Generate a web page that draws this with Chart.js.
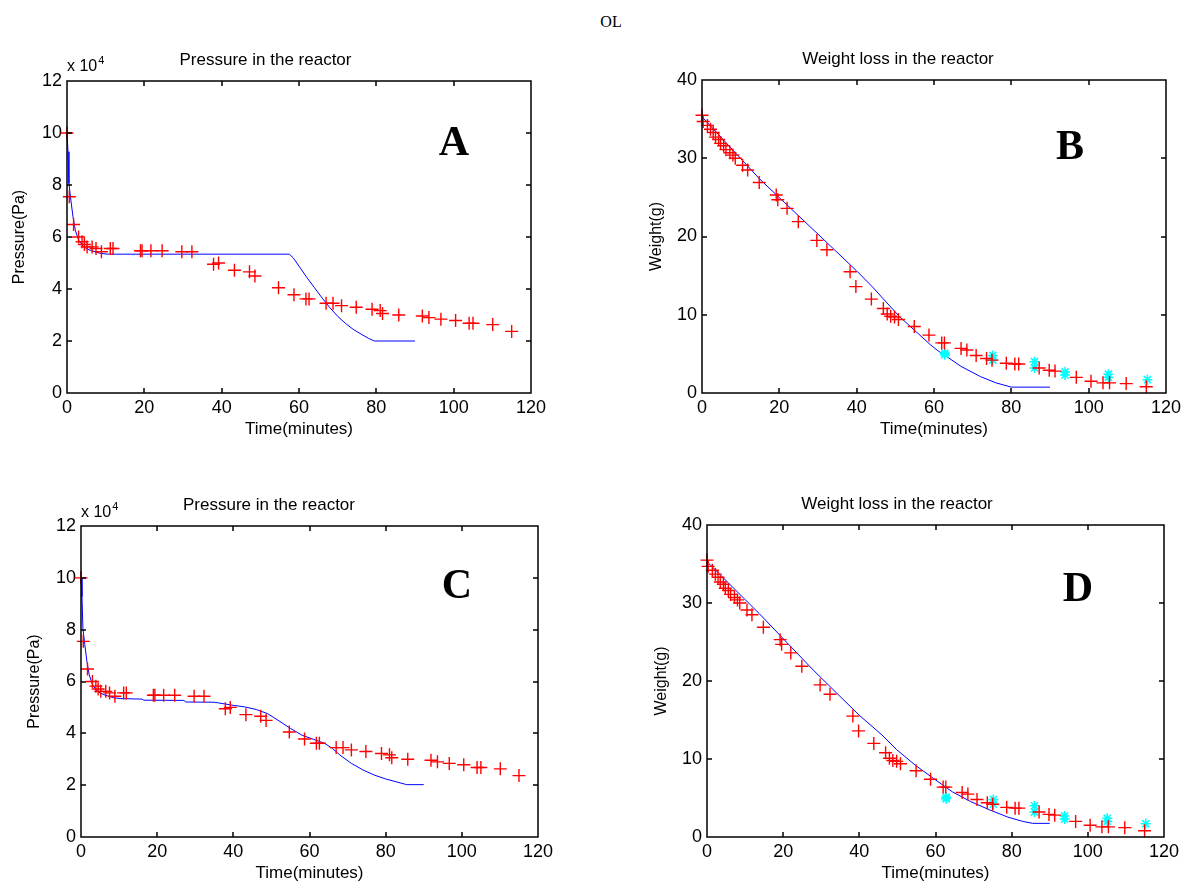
<!DOCTYPE html>
<html lang="en">
<head>
  <meta charset="UTF-8" />
  <title>OL - pressure and weight loss in the reactor</title>
  <script src="https://cdn.jsdelivr.net/npm/chart.js"></script>
  <style>
    body { margin: 0; background: #fff; color: #000; }
    #page { position: relative; width: 1181px; height: 884px; overflow: hidden; background: #fff; }
    .panel { position: absolute; }
    .tag { position: absolute; font: bold 42px "Liberation Serif", "Times New Roman", serif; line-height: 1; transform: translate(-50%, -50%); color: #000; }
    .mult { position: absolute; font: 16px "Liberation Sans", Arial, sans-serif; color: #000; white-space: nowrap; }
    .mult span { position: relative; top: -7px; font-size: 11px; margin-left: 1px; }
    #head { position: absolute; left: 611px; top: 22px; transform: translate(-50%, -50%); font: 16px "Liberation Serif", "Times New Roman", serif; color: #000; }
  </style>
</head>
<body>
<div id="page">
  <div id="head">OL</div>

  <div class="panel" id="boxA"><canvas id="chartA"></canvas></div>
  <div class="panel" id="boxB"><canvas id="chartB"></canvas></div>
  <div class="panel" id="boxC"><canvas id="chartC"></canvas></div>
  <div class="panel" id="boxD"><canvas id="chartD"></canvas></div>

  <div class="mult" style="left:67px; top:57px;">x 10<span>4</span></div>
  <div class="mult" style="left:81px; top:503px;">x 10<span>4</span></div>

  <div class="tag" style="left:454px; top:141px;">A</div>
  <div class="tag" style="left:1070px; top:145px;">B</div>
  <div class="tag" style="left:457px; top:584px;">C</div>
  <div class="tag" style="left:1078px; top:587px;">D</div>
</div>

<script>
  // measured pressure (Pa) - same points in A and C
  const pTime = [0, 0.6, 1.7, 3, 3.9, 4.5, 5.2, 6.5, 7.5, 8.9, 11.2, 11.9, 19.0, 19.4, 21.7, 24.6, 29.7, 32.3,
    37.9, 39.2, 43.3, 47.2, 48.6, 54.7, 58.7, 61.8, 62.6, 67.0, 68.8, 71.0, 74.8, 78.9, 81.0, 81.6, 85.8,
    91.9, 93.6, 96.7, 100.5, 104.0, 105.0, 110.1, 115.0];
  const pMeas = [100000, 75500, 64800, 60000, 58200, 57100, 56200, 56200, 55600, 54300, 55600, 55600, 54700, 54700,
    54700, 54700, 54300, 54300, 49500, 50000, 47200, 46600, 45000, 40500, 37800, 36200, 36200, 34500, 34500,
    33600, 33000, 32200, 31700, 30600, 30000, 29600, 29000, 28400, 27900, 26800, 26800, 26300, 23700];

  // model pressure, panel A
  const modelATime = [0, 0.26, 0.5, 1.0, 1.55, 2.15, 3.0, 4.3, 6.0, 8.6, 10.5, 57.5, 58.5, 60, 62, 64, 66, 68,
    70, 72, 74, 76, 78, 79.5, 90];
  const modelA = [100000, 92800, 80600, 74200, 67800, 62600, 58800, 56200, 54900, 53700, 53400, 53400, 52000,
    48800, 44500, 40500, 36500, 32800, 29500, 26800, 24500, 22700, 21000, 20000, 20000];

  // model pressure, panel C
  const modelCTime = [0, 0.26, 0.5, 1.0, 1.55, 2.15, 3.0, 4.3, 6.0, 8.6, 10.5, 16, 16.5, 27, 27.5, 35, 40, 43,
    46, 49, 52, 55, 58, 61, 64, 66, 68, 71, 74, 77, 80, 83, 85.5, 90];
  const modelC = [100000, 92800, 80600, 74200, 67800, 62600, 58800, 56200, 54900, 53700, 53400, 53200, 52800,
    52700, 52100, 52000, 50800, 50200, 49200, 47600, 44800, 41900, 39300, 37700, 36100, 34200, 31600, 28400,
    25900, 23900, 22400, 21200, 20200, 20200];

  // measured weight (g) - same points in B and D
  const wTime = [0, 0.3, 1.4, 2.2, 2.9, 3.5, 4.3, 4.8, 5.6, 6.2, 7.2, 8.0, 8.6, 10.5, 11.8, 14.8, 19.2, 19.6, 22,
    24.9, 29.7, 32.3, 38.3, 39.8, 43.8, 46.9, 47.9, 48.8, 49.8, 50.8, 54.9, 58.7, 62.0, 62.7, 67.0, 68.5, 70.9,
    73.6, 75.0, 78.7, 80.9, 81.9, 87.2, 89.8, 91.3, 96.8, 100.6, 103.7, 105.4, 109.7, 114.9];
  const wMeas = [35.5, 34.7, 34.2, 33.7, 33.3, 32.7, 32.4, 31.9, 31.6, 31.1, 30.7, 30.4, 30.0, 29.1, 28.5, 26.9,
    25.3, 24.7, 23.6, 21.9, 19.5, 18.3, 15.5, 13.6, 12.0, 10.8, 10.1, 9.8, 9.7, 9.4, 8.5, 7.4, 6.4, 6.4, 5.7,
    5.5, 4.8, 4.4, 4.2, 3.8, 3.7, 3.7, 3.2, 2.9, 2.8, 2.0, 1.5, 1.3, 1.3, 1.2, 0.8];

  // second set of weight readings (cyan stars)
  const starTime = [62.8, 62.8, 75.2, 75.2, 86.0, 86.0, 93.9, 93.9, 105.1, 105.1, 115.2];
  const starW = [5.1, 4.9, 4.8, 4.2, 4.0, 3.2, 2.7, 2.3, 2.4, 2.0, 1.7];

  // model weight, panel B and D
  const modelBTime = [0, 15, 30, 40, 44, 51, 55, 59, 61, 63, 67, 72, 76, 80, 90];
  const modelB = [35.3, 27.3, 20.3, 15.6, 13.6, 9.8, 8.0, 6.2, 5.4, 4.75, 3.4, 2.1, 1.3, 0.75, 0.75];
  const modelDTime = [0, 13.8, 27.9, 40, 45.9, 49.8, 54.7, 59.5, 64.4, 69.2, 74.1, 79, 82.9, 85.5, 90];
  const modelD = [35.3, 28.6, 21.4, 15.6, 13.1, 11.2, 9.2, 7.5, 5.8, 4.55, 3.5, 2.55, 2.0, 1.75, 1.75];

  const timeTicks = [0, 20, 40, 60, 80, 100, 120];

  const sans = '"Liberation Sans", Arial, sans-serif';
  const pts = (xs, ys) => xs.map((x, i) => ({ x: x, y: ys[i] }));

  // matlab style box with inward ticks on all sides
  const boxTicks = {
    id: 'boxTicks',
    afterDraw(chart) {
      const { ctx, chartArea: a, scales: { x, y } } = chart;
      const l = Math.round(a.left), r = Math.round(a.right);
      const t = Math.round(a.top), b = Math.round(a.bottom);
      ctx.save();
      ctx.strokeStyle = '#000';
      ctx.lineWidth = 1.5;
      ctx.beginPath();
      x.ticks.forEach(tk => {
        const px = Math.round(x.getPixelForValue(tk.value));
        ctx.moveTo(px, b); ctx.lineTo(px, b - 5);
        ctx.moveTo(px, t); ctx.lineTo(px, t + 5);
      });
      y.ticks.forEach(tk => {
        const py = Math.round(y.getPixelForValue(tk.value));
        ctx.moveTo(l, py); ctx.lineTo(l + 5, py);
        ctx.moveTo(r, py); ctx.lineTo(r - 5, py);
      });
      ctx.rect(l, t, r - l, b - t);
      ctx.stroke();
      ctx.restore();
    }
  };

  function makePanel(id, box, p) {
    // p: plot rect L,T,R,B ; left: container left ; yTitleX: centre of y label
    const el = document.getElementById(box);
    const top = p.T - 40;
    el.style.left = p.left + 'px';
    el.style.top = top + 'px';
    el.style.width = (p.R + 30 - p.left) + 'px';
    el.style.height = (p.B + 50 - top) + 'px';

    return new Chart(id, {
      type: 'scatter',
      data: { datasets: p.datasets },
      options: {
        responsive: true,
        maintainAspectRatio: false,
        animation: false,
        events: [],
        layout: { padding: { left: 0, right: 30, top: 0, bottom: 0 } },
        plugins: {
          legend: { display: false },
          tooltip: { enabled: false },
          title: {
            display: true, text: p.title, color: '#000',
            font: { family: sans, size: 17, weight: 'normal', lineHeight: 1.2 },
            padding: { top: 9, bottom: 10.6 }
          }
        },
        scales: {
          x: {
            type: 'linear', min: 0, max: 120,
            afterBuildTicks: s => { s.ticks = timeTicks.map(v => ({ value: v })); },
            ticks: { color: '#000', font: { family: sans, size: 18 }, padding: 4, maxRotation: 0 },
            grid: { display: false, drawTicks: false },
            border: { display: false },
            title: {
              display: true, text: 'Time(minutes)', color: '#000',
              font: { family: sans, size: 17, lineHeight: 1.2 }, padding: { top: 0, bottom: 3 }
            },
            afterFit: s => { s.height = 50; }
          },
          y: {
            type: 'linear', min: 0, max: p.yMax,
            afterBuildTicks: s => { s.ticks = p.yTicks.map(v => ({ value: v })); },
            ticks: { color: '#000', font: { family: sans, size: 18 }, padding: 5, callback: p.yFmt },
            grid: { display: false, drawTicks: false },
            border: { display: false },
            title: {
              display: true, text: p.yTitle, color: '#000',
              font: { family: sans, size: 16, lineHeight: 1.2 },
              padding: { top: p.yTitleX - p.left - 9.6, bottom: 0 }
            },
            afterFit: s => { s.width = p.L - p.left; }
          }
        }
      },
      plugins: [boxTicks]
    });
  }

  const redSet = data => ({
    data: data, showLine: false, clip: false,
    pointStyle: 'cross', pointRadius: 6.5, pointBorderWidth: 1.4,
    borderColor: '#ff0000', backgroundColor: '#ff0000'
  });
  const starSet = () => ({
    data: pts(starTime, starW), showLine: false, clip: false,
    pointStyle: 'star', pointRadius: 5, pointBorderWidth: 1.6,
    borderColor: '#00ffff', backgroundColor: '#00ffff'
  });
  const blueSet = data => ({
    data: data, showLine: true, pointRadius: 0, borderWidth: 1,
    borderColor: '#0000ff', backgroundColor: '#0000ff', tension: 0, clip: false
  });

  const pTicks = [0, 20000, 40000, 60000, 80000, 100000, 120000];
  const wTicks = [0, 10, 20, 30, 40];
  const pFmt = v => v / 10000;
  const wFmt = v => v;

  makePanel('chartA', 'boxA', {
    left: 0, L: 67, T: 81, R: 531, B: 393, yTitleX: 20,
    title: 'Pressure in the reactor', yTitle: 'Pressure(Pa)', yMax: 120000, yTicks: pTicks, yFmt: pFmt,
    datasets: [redSet(pts(pTime, pMeas)), blueSet(pts(modelATime, modelA))]
  });
  makePanel('chartB', 'boxB', {
    left: 630, L: 702, T: 80, R: 1166, B: 393, yTitleX: 657,
    title: 'Weight loss in the reactor', yTitle: 'Weight(g)', yMax: 40, yTicks: wTicks, yFmt: wFmt,
    datasets: [redSet(pts(wTime, wMeas)), starSet(), blueSet(pts(modelBTime, modelB))]
  });
  makePanel('chartC', 'boxC', {
    left: 0, L: 81, T: 526, R: 538, B: 837, yTitleX: 35,
    title: 'Pressure in the reactor', yTitle: 'Pressure(Pa)', yMax: 120000, yTicks: pTicks, yFmt: pFmt,
    datasets: [redSet(pts(pTime, pMeas)), blueSet(pts(modelCTime, modelC))]
  });
  makePanel('chartD', 'boxD', {
    left: 630, L: 707, T: 525, R: 1164, B: 837, yTitleX: 662,
    title: 'Weight loss in the reactor', yTitle: 'Weight(g)', yMax: 40, yTicks: wTicks, yFmt: wFmt,
    datasets: [redSet(pts(wTime, wMeas)), starSet(), blueSet(pts(modelDTime, modelD))]
  });
</script>
</body>
</html>
